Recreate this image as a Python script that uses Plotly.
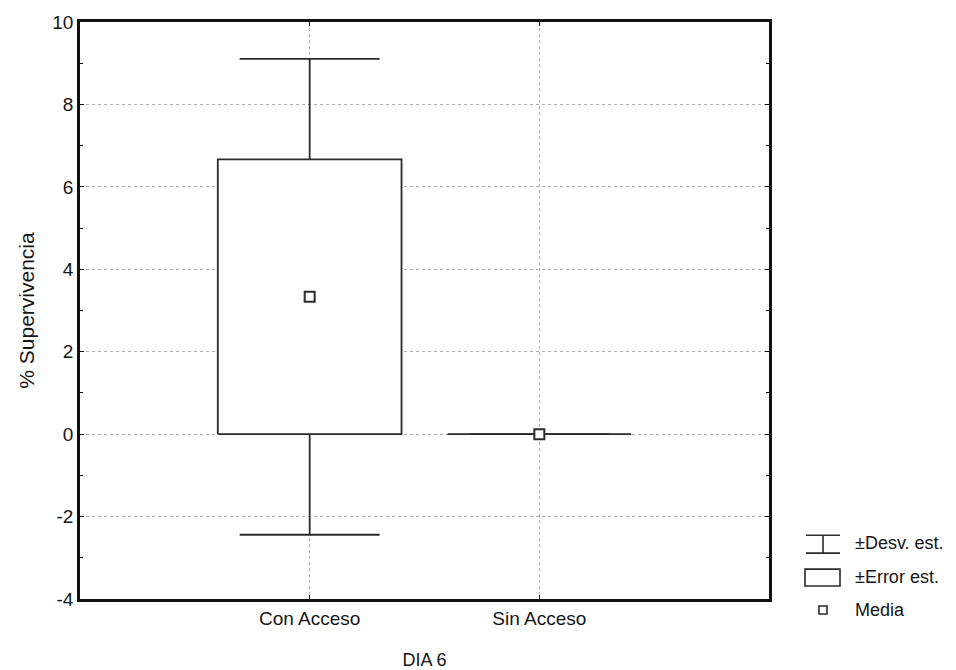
import plotly.graph_objects as go

# Survival (%) on day 6 by access group
categories = ["Con Acceso", "Sin Acceso"]
means = [3.333, 0.0]
std_err = [3.333, 0.0]
std_dev = [5.774, 0.0]

y_ticks = [-4, -2, 0, 2, 4, 6, 8, 10]
y_tick_labels = ["-4", "-2", "0", "2", "4", "6", "8", "10"]

LINE = "#2b2b2b"
FONT = "Liberation Sans, Arial, sans-serif"
TEXT = "#151515"
BOX_HALF = 0.4

xs = list(range(len(categories)))
fig = go.Figure()

# ±SD whiskers
fig.add_trace(go.Scatter(
    x=xs, y=means, mode="markers",
    marker=dict(size=1, color="rgba(0,0,0,0)"),
    error_y=dict(type="data", array=std_dev, visible=True,
                 color=LINE, thickness=1.8, width=70),
    showlegend=False, hoverinfo="skip"))

# ±SE boxes
for xi, m, se in zip(xs, means, std_err):
    fig.add_trace(go.Scatter(
        x=[xi - BOX_HALF, xi + BOX_HALF, xi + BOX_HALF, xi - BOX_HALF, xi - BOX_HALF],
        y=[m - se, m - se, m + se, m + se, m - se],
        mode="lines", fill="toself", fillcolor="white",
        line=dict(color=LINE, width=1.8),
        showlegend=False, hoverinfo="skip"))

# Means
fig.add_trace(go.Scatter(
    x=xs, y=means, mode="markers",
    marker=dict(symbol="square", size=10, color="white",
                line=dict(color=LINE, width=2)),
    showlegend=False))

# Legend drawn with shapes (paper coordinates)
def px(x):
    return (x - 80) / 689

def py(y):
    return (599 - y) / 579

leg = dict(color=LINE, width=1.6)
shapes = [
    # whisker symbol
    dict(type="line", xref="paper", yref="paper", x0=px(806), x1=px(840), y0=py(535), y1=py(535), line=leg),
    dict(type="line", xref="paper", yref="paper", x0=px(806), x1=px(840), y0=py(553), y1=py(553), line=leg),
    dict(type="line", xref="paper", yref="paper", x0=px(823), x1=px(823), y0=py(535), y1=py(553), line=leg),
    # box symbol
    dict(type="rect", xref="paper", yref="paper", x0=px(805), x1=px(840), y0=py(586), y1=py(569), line=leg),
    # mean symbol
    dict(type="rect", xref="paper", yref="paper", x0=px(819), x1=px(827), y0=py(614), y1=py(606), line=leg),
]

annotations = []
for label, yy in [("±Desv. est.", 543), ("±Error est.", 577), ("Media", 610)]:
    annotations.append(dict(text=label, xref="paper", yref="paper", x=px(853), y=py(yy),
                            xanchor="left", yanchor="middle", showarrow=False,
                            font=dict(family=FONT, size=18, color=TEXT)))

fig.update_layout(
    width=956, height=670,
    margin=dict(l=80, r=187, t=20, b=71),
    paper_bgcolor="white", plot_bgcolor="white",
    font=dict(family=FONT, size=19, color=TEXT),
    shapes=shapes, annotations=annotations,
    showlegend=False,
)

fig.update_xaxes(
    range=[-1, 2], tickvals=xs, ticktext=categories,
    showline=True, linecolor="#111", linewidth=2.5, mirror="ticks",
    ticks="inside", ticklen=4, tickcolor="#111",
    showgrid=True, gridcolor="#b0b0b0", griddash="dot", gridwidth=1,
    zeroline=False, automargin=False,
    title=dict(text="DIA 6", standoff=27, font=dict(size=18)),
    tickfont=dict(size=19),
)
fig.update_yaxes(
    range=[-4, 10], tickvals=y_ticks, ticktext=y_tick_labels,
    showline=True, linecolor="#111", linewidth=2.5, mirror="ticks",
    ticks="inside", ticklen=4, tickcolor="#111",
    minor=dict(tickvals=[-3, -1, 1, 3, 5, 7, 9], ticks="inside", ticklen=3, tickcolor="#111", showgrid=False),
    showgrid=True, gridcolor="#b0b0b0", griddash="dot", gridwidth=1,
    zeroline=False,
    title=dict(text="% Supervivencia", standoff=12, font=dict(size=21)),
    tickfont=dict(size=19),
)

fig.write_html("out.html")
